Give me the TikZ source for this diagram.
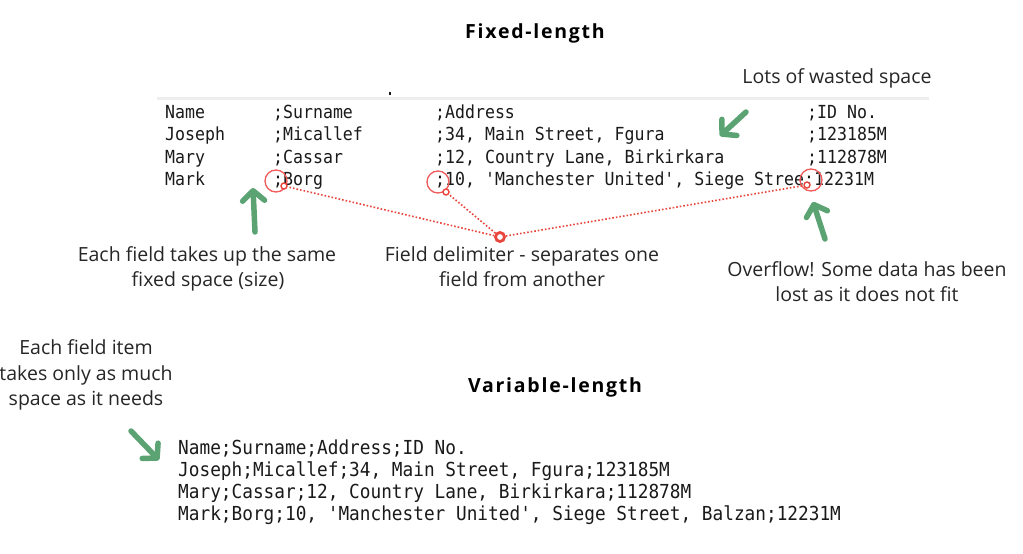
\documentclass[tikz,border=0pt]{standalone}
\usepackage{fontspec}
\usetikzlibrary{arrows.meta}
\newfontfamily\monofont[FakeStretch=0.92]{DejaVu Sans Mono}
\newfontfamily\varmonofont[FakeStretch=0.92]{DejaVu Sans Mono}
\newfontfamily\titlefont[LetterSpace=9]{Open Sans}
\newfontfamily\handfont{Open Sans}
\definecolor{txt}{HTML}{1A1A1A}
\definecolor{arrgreen}{HTML}{5BA372}
\definecolor{dotred}{HTML}{E8453C}
\definecolor{ringred}{HTML}{F05A5A}
\definecolor{rule}{HTML}{EEEEEE}
\tikzset{
  fixcell/.style={anchor=base west, inner sep=0pt, text=txt, font=\monofont\fontsize{18}{20}\selectfont},
  varcell/.style={anchor=base west, inner sep=0pt, text=txt, font=\varmonofont\fontsize{19.3}{22}\selectfont},
  titletext/.style={anchor=base, inner sep=0pt, text=black, font=\titlefont\bfseries\fontsize{19.5}{22}\selectfont},
  handtext/.style={anchor=base, inner sep=0pt, text=black!85, font=\handfont\fontsize{19.5}{24}\selectfont},
  greenarrow/.style={draw=arrgreen, line width=5.5pt, line cap=round, line join=round,
    -{Straight Barb[length=10pt,width=22pt,line width=5.5pt,round]}},
  ring/.style={circle, draw=ringred, line width=1.3pt, minimum size=22pt, inner sep=0pt},
  endring/.style={circle, draw=dotred, fill=white, line width=1.4pt, minimum size=6pt, inner sep=0pt},
  hubdot/.style={circle, draw=dotred, fill=white, line width=2.8pt, minimum size=9pt, inner sep=0pt},
  dotline/.style={draw=dotred, line width=1.6pt, dotted},
}
\begin{document}
\begin{tikzpicture}[x=1pt,y=-1pt]
\useasboundingbox[fill=white] (0,0) rectangle (1023,554);

% titles
\node[titletext] (tfixed) at (535,38) {Fixed-length};
\node[titletext] (tvar) at (555,392) {Variable-length};

% grey rule and tiny mark
\coordinate (rl) at (157,98);
\coordinate (rr) at (929,98);
\draw[rule, line width=3pt] (rl) -- (rr);
\coordinate (mk1) at (390,91.5);
\coordinate (mk2) at (390,95);
\draw[txt, line width=1.2pt] (mk1) -- (mk2);

% fixed-length table
\node[fixcell] (f11) at (165,118) {Name};
\node[fixcell] (f12) at (273,118) {;Surname};
\node[fixcell] (f13) at (435,118) {;Address};
\node[fixcell] (f14) at (807,118) {;ID No.};
\node[fixcell] (f21) at (165,140.5) {Joseph};
\node[fixcell] (f22) at (273,140.5) {;Micallef};
\node[fixcell] (f23) at (435,140.5) {;34, Main Street, Fgura};
\node[fixcell] (f24) at (807,140.5) {;123185M};
\node[fixcell] (f31) at (165,163) {Mary};
\node[fixcell] (f32) at (273,163) {;Cassar};
\node[fixcell] (f33) at (435,163) {;12, Country Lane, Birkirkara};
\node[fixcell] (f34) at (807,163) {;112878M};
\node[fixcell] (f41) at (165,185.5) {Mark};
\node[fixcell] (f42) at (273,185.5) {;Borg};
\node[fixcell] (f43) at (435,185.5) {;10, 'Manchester United', Siege Stree};
\node[fixcell] (f44) at (804,185.5) {;12231M};

% variable-length table
\node[varcell] (v1) at (178,454) {Name;Surname;Address;ID No.};
\node[varcell] (v2) at (178,476) {Joseph;Micallef;34, Main Street, Fgura;123185M};
\node[varcell] (v3) at (178,498) {Mary;Cassar;12, Country Lane, Birkirkara;112878M};
\node[varcell] (v4) at (178,520) {Mark;Borg;10, 'Manchester United', Siege Street, Balzan;12231M};

% annotations
\node[handtext] (lots) at (837,83) {Lots of wasted space};
\node[handtext] (each1) at (207,261) {Each field takes up the same};
\node[handtext] (each2) at (208,286) {fixed space (size)};
\node[handtext] (delim1) at (522,261) {Field delimiter - separates one};
\node[handtext] (delim2) at (522,286) {field from another};
\node[handtext] (over1) at (867,276) {Overflow! Some data has been};
\node[handtext] (over2) at (867,301) {lost as it does not fit};
\node[handtext] (item1) at (86,354) {Each field item};
\node[handtext] (item2) at (86,380) {takes only as much};
\node[handtext] (item3) at (86,405) {space as it needs};

% red rings around delimiters
\node[ring] (c1) at (276,181) {};
\node[ring] (c2) at (438,182) {};
\node[ring] (c3) at (811,180) {};

% dotted leader lines
\node[endring] (e1) at (284,186) {};
\node[endring] (e2) at (446,192) {};
\node[endring] (e3) at (807,185) {};
\node[hubdot] (hub) at (500,237) {};
\draw[dotline] (hub) -- (e1);
\draw[dotline] (hub) -- (e2);
\draw[dotline] (hub) -- (e3);

% green arrows
\coordinate (a1s) at (746,112);
\coordinate (a1e) at (720,136);
\draw[greenarrow] (a1s) -- (a1e);
\coordinate (a2s) at (255,232);
\coordinate (a2e) at (253,188);
\draw[greenarrow] (a2s) -- (a2e);
\coordinate (a3s) at (825,239);
\coordinate (a3e) at (813,202);
\draw[greenarrow] (a3s) -- (a3e);
\coordinate (a4s) at (131,431);
\coordinate (a4e) at (159,460);
\draw[greenarrow] (a4s) -- (a4e);
\end{tikzpicture}
\end{document}
